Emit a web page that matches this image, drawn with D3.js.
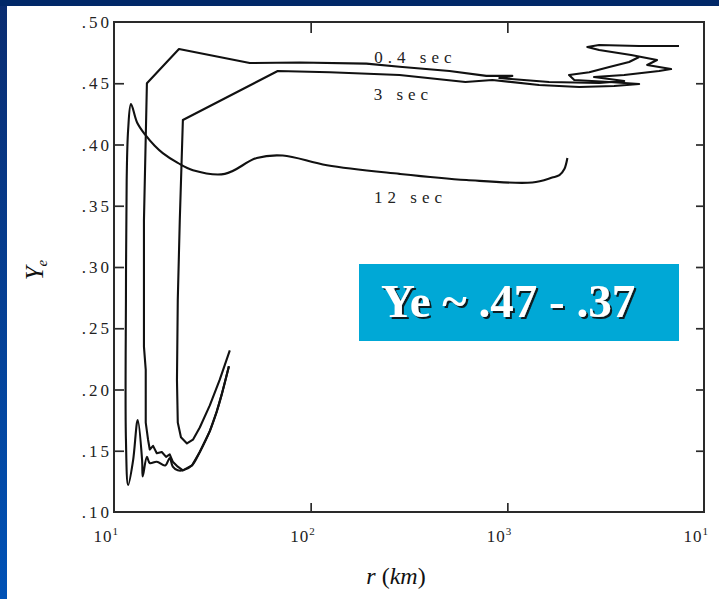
<!DOCTYPE html>
<html>
<head>
<meta charset="utf-8">
<script src="https://cdn.jsdelivr.net/npm/d3@7"></script>
<style>
  html, body { margin: 0; padding: 0; background: #fff; }
  svg { display: block; }
</style>
</head>
<body>
<script>
// axis ticks
const yTicks = [0.10, 0.15, 0.20, 0.25, 0.30, 0.35, 0.40, 0.45, 0.50];
const yTickLabels = ['.10', '.15', '.20', '.25', '.30', '.35', '.40', '.45', '.50'];
const xTicks = [10, 100, 1000, 10000];
const xTickExp = ['1', '2', '3', '1'];

// Ye profiles, r in km
const r04 = [38.4, 35.3, 33.3, 30.7, 27.3, 24.9, 22.4, 21.1, 19.9, 19.2, 18.4, 17.5, 16.5, 15.8, 15.2, 14.9, 14.5, 14.5, 14.2, 14.2,
  14.7, 21.4, 49, 88, 192, 283, 508, 782, 1060, 911, 1630, 2930, 3930, 2760, 3930, 5910, 6800, 5140, 5770, 4260, 2930, 2550, 2930, 4680, 7460];
const ye04 = [.219, .196, .182, .166, .149, .138, .134, .137, .141, .147, .145, .149, .148, .154, .151, .159, .173, .216, .235, .338,
  .450, .478, .4665, .467, .466, .4635, .460, .456, .456, .4543, .451, .4502, .4518, .4551, .4567, .460, .4616, .4649, .469, .4731, .4771, .4796, .4812, .4804, .4804];

const r3 = [38.8, 34.5, 30.7, 27.3, 25.2, 23.5, 21.9, 21.1, 20.9, 21.1, 21.6, 22.4, 68, 125, 283, 612, 839, 1450, 2320, 3490, 4680, 3300, 2190, 2060, 2610, 3300, 4160, 4680];
const ye3 = [.232, .208, .187, .169, .159, .156, .161, .173, .208, .273, .338, .420, .460, .459, .4567, .451, .4527, .4486, .4469, .4478, .4494, .451, .4527, .4567, .459, .4633, .4673, .4714];

const r12 = [38.4, 35.3, 33.3, 30.7, 27.3, 24.9, 22.4, 21.1, 19.9, 19.2, 18.2, 16.5, 15.2, 14.7, 14.0, 13.9, 13.2, 12.5, 11.8, 11.5,
  11.5, 11.6, 11.8, 12.2, 13.1, 14.4, 16.1, 17.7, 21.1, 25.2, 36.6, 53.2, 72.1, 121, 283, 620, 1340, 1690, 1840, 1950, 2020];
const ye12 = [.219, .196, .182, .166, .149, .138, .134, .134, .137, .144, .138, .141, .140, .145, .129, .142, .175, .142, .122, .159,
  .273, .371, .412, .433, .418, .408, .399, .393, .385, .379, .376, .389, .391, .383, .376, .371, .369, .373, .375, .380, .389];

const curveLabels = ['0.4 sec', '3 sec', '12 sec'];
const labelR = [329, 286, 311];
const labelYe = [.4665, .4363, .3522];

const W = 719, H = 599;
const svg = d3.select('body').append('svg').attr('width', W).attr('height', H);

// slide frame
const defs = svg.append('defs');
const grad = defs.append('linearGradient').attr('id', 'side').attr('x1', 0).attr('y1', 0).attr('x2', 0).attr('y2', 1);
grad.append('stop').attr('offset', '0%').attr('stop-color', '#0a2c70');
grad.append('stop').attr('offset', '100%').attr('stop-color', '#0052b6');
const shadow = defs.append('filter').attr('id', 'shadow').attr('x', '-5%').attr('y', '-20%').attr('width', '115%').attr('height', '150%');
shadow.append('feDropShadow').attr('dx', 2).attr('dy', 2).attr('stdDeviation', 0.6)
  .attr('flood-color', '#111').attr('flood-opacity', 0.9);

svg.append('rect').attr('x', 0).attr('y', 0).attr('width', W).attr('height', H).attr('fill', '#fff');
svg.append('rect').attr('x', 0).attr('y', 0).attr('width', 7).attr('height', H).attr('fill', 'url(#side)');
svg.append('rect').attr('x', 0).attr('y', 0).attr('width', W).attr('height', 6).attr('fill', '#012868');

const x = d3.scaleLog().domain([10, 10000]).range([114, 704]);
const y = d3.scaleLinear().domain([0.10, 0.50]).range([512, 22]);

const axisColor = '#2a2a2a';
const fontSerif = '"Liberation Serif", "DejaVu Serif", serif';

// inward ticks on all four sides
function inner(axis, transform) {
  const g = svg.append('g').attr('transform', transform).call(axis);
  g.select('.domain').remove();
  g.selectAll('.tick line').attr('stroke', axisColor).attr('stroke-width', 1.7);
  g.selectAll('.tick text').remove();
  return g;
}
inner(d3.axisBottom(x).tickValues(xTicks.slice(1, 3)).tickSize(-9), 'translate(0,512)');
inner(d3.axisTop(x).tickValues(xTicks.slice(1, 3)).tickSize(-11), 'translate(0,22)');
inner(d3.axisLeft(y).tickValues(yTicks.slice(1, -1)).tickSize(-10), 'translate(114,0)');
inner(d3.axisRight(y).tickValues(yTicks.slice(1, -1)).tickSize(-8), 'translate(704,0)');

svg.append('rect')
  .attr('x', 114).attr('y', 22).attr('width', 590).attr('height', 490)
  .attr('fill', 'none').attr('stroke', axisColor).attr('stroke-width', 2);

// y tick labels
svg.append('g').selectAll('text').data(yTicks).join('text')
  .attr('x', 112).attr('y', d => y(d) + 6)
  .attr('text-anchor', 'end')
  .attr('font-family', fontSerif).attr('font-size', 17)
  .attr('letter-spacing', 3).attr('fill', '#222')
  .text((d, i) => yTickLabels[i]);

// x tick labels 10^n
const xl = svg.append('g').selectAll('text').data(xTicks).join('text')
  .attr('x', d => x(d) + 4).attr('y', 542)
  .attr('text-anchor', 'end')
  .attr('font-family', fontSerif).attr('font-size', 17)
  .attr('fill', '#222');
xl.append('tspan').attr('letter-spacing', 1).text('10');
xl.append('tspan').attr('font-size', 11).attr('dy', -7).text((d, i) => xTickExp[i]);

// axis titles
svg.append('text')
  .attr('transform', 'translate(43,270) rotate(-90)')
  .attr('text-anchor', 'middle')
  .attr('font-family', fontSerif).attr('font-size', 25).attr('font-style', 'italic').attr('fill', '#111')
  .call(t => {
    t.append('tspan').text('Y');
    t.append('tspan').attr('font-size', 15).attr('dy', 4).text('e');
  });

svg.append('text')
  .attr('x', 396).attr('y', 584)
  .attr('text-anchor', 'middle')
  .attr('font-family', fontSerif).attr('font-size', 24).attr('fill', '#111')
  .call(t => {
    t.append('tspan').attr('font-style', 'italic').text('r');
    t.append('tspan').text('  (');
    t.append('tspan').attr('font-style', 'italic').text('km');
    t.append('tspan').text(')');
  });

// curves
const line = d3.line().x(d => x(d[0])).y(d => y(d[1]));
const smooth = d3.line().x(d => x(d[0])).y(d => y(d[1])).curve(d3.curveCatmullRom.alpha(0.5));
const series = [
  { r: r04, ye: ye04, gen: line },
  { r: r3, ye: ye3, gen: line },
  { r: r12, ye: ye12, gen: smooth }
];
svg.append('g').selectAll('path').data(series).join('path')
  .attr('d', s => s.gen(s.r.map((v, i) => [v, s.ye[i]])))
  .attr('fill', 'none').attr('stroke', '#111').attr('stroke-width', 2.1)
  .attr('stroke-linejoin', 'round');

// curve labels
svg.append('g').selectAll('text').data(curveLabels).join('text')
  .attr('x', (d, i) => x(labelR[i]) + 3).attr('y', (d, i) => y(labelYe[i]))
  .attr('text-anchor', 'middle')
  .attr('font-family', fontSerif).attr('font-size', 17)
  .attr('letter-spacing', 5).attr('fill', '#222')
  .text(d => d);

// highlight box
svg.append('rect').attr('x', 359).attr('y', 264).attr('width', 320).attr('height', 77).attr('fill', '#00a8d6');
svg.append('text').attr('x', 381).attr('y', 317)
  .attr('font-family', fontSerif).attr('font-size', 47).attr('font-weight', 'bold')
  .attr('fill', '#fff').attr('filter', 'url(#shadow)')
  .text('Ye ~ .47 - .37');
</script>
</body>
</html>
